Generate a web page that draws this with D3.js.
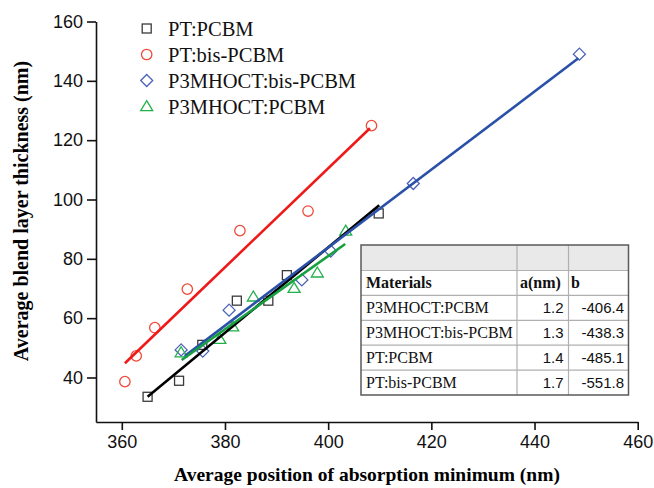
<!DOCTYPE html>
<html><head><meta charset="utf-8">
<script src="https://cdn.jsdelivr.net/npm/d3@7"></script>
<style>body{margin:0;background:#fff}svg{display:block}</style>
</head><body>
<script>
// ---- data ----
const seriesNames = ["PT:PCBM", "PT:bis-PCBM", "P3MHOCT:bis-PCBM", "P3MHOCT:PCBM"];
const ptPcbmX = [365.0, 371.1, 375.6, 382.3, 388.4, 392.0, 409.8];
const ptPcbmY = [33.5, 38.9, 51.0, 65.9, 65.9, 74.5, 95.3];
const ptBisX = [360.6, 362.8, 366.4, 372.7, 382.9, 396.1, 408.4];
const ptBisY = [38.6, 47.3, 56.8, 69.8, 89.5, 96.1, 124.9];
const p3BisX = [371.5, 375.7, 380.8, 394.9, 400.5, 416.5, 448.7];
const p3BisY = [49.3, 48.9, 62.7, 72.9, 82.6, 105.4, 149.0];
const p3PcbmX = [371.5, 379.0, 381.5, 385.5, 393.4, 397.9, 403.4];
const p3PcbmY = [48.4, 52.9, 57.1, 67.2, 70.1, 75.3, 89.4];
// fitted line end points [x0, x1], [y0, y1]
const ptPcbmFitX = [365.0, 409.9], ptPcbmFitY = [33.5, 98.1];
const ptBisFitX = [360.6, 408.1], ptBisFitY = [44.8, 124.0];
const p3BisFitX = [372.2, 448.5], p3BisFitY = [47.2, 147.6];
const p3PcbmFitX = [371.6, 403.3], p3PcbmFitY = [45.9, 85.0];
const xTicks = [360, 380, 400, 420, 440, 460];
const yTicks = [40, 60, 80, 100, 120, 140, 160];
const tableHeader = ["Materials", "a(nm)", "b"];
const tableMaterials = ["P3MHOCT:PCBM", "P3MHOCT:bis-PCBM", "PT:PCBM", "PT:bis-PCBM"];
const tableA = ["1.2", "1.3", "1.4", "1.7"];
const tableB = ["-406.4", "-438.3", "-485.1", "-551.8"];

// ---- chart ----
const W = 654, H = 488;
const svg = d3.select("body").append("svg").attr("width", W).attr("height", H);
const x = d3.scaleLinear().domain([355, 460]).range([96, 637.7]);
const y = d3.scaleLinear().domain([25, 160]).range([422, 21.5]);
const serif = "'Liberation Serif','Times New Roman',serif";
const sans = "'Liberation Sans',Arial,sans-serif";

const xAxis = svg.append("g").attr("transform", "translate(0,422)")
  .call(d3.axisBottom(x).tickValues(xTicks).tickSize(8).tickSizeOuter(0).tickPadding(5).tickFormat(d3.format("d")));
const yAxis = svg.append("g").attr("transform", "translate(96,0)")
  .call(d3.axisLeft(y).tickValues(yTicks).tickSize(9).tickSizeOuter(0).tickPadding(4).tickFormat(d3.format("d")));
[xAxis, yAxis].forEach(g => {
  g.selectAll("path,line").attr("stroke", "#111").attr("stroke-width", 1.6);
  g.selectAll("text").attr("font-family", sans).attr("font-size", 18).attr("fill", "#111");
});

svg.append("text").attr("x", 367).attr("y", 481).attr("text-anchor", "middle")
  .attr("font-family", serif).attr("font-weight", "bold").attr("font-size", 19.5)
  .text("Average position of absorption minimum (nm)");
svg.append("text").attr("transform", "translate(28,211) rotate(-90)").attr("text-anchor", "middle")
  .attr("font-family", serif).attr("font-weight", "bold").attr("font-size", 20)
  .text("Average blend layer thickness (nm)");

const series = [
  {name: seriesNames[0], xs: ptPcbmX, ys: ptPcbmY, fx: ptPcbmFitX, fy: ptPcbmFitY, mark: "square", mc: "#3a3a3a", lc: "#000000"},
  {name: seriesNames[1], xs: ptBisX, ys: ptBisY, fx: ptBisFitX, fy: ptBisFitY, mark: "circle", mc: "#f04a3a", lc: "#ee1a1a"},
  {name: seriesNames[2], xs: p3BisX, ys: p3BisY, fx: p3BisFitX, fy: p3BisFitY, mark: "diamond", mc: "#4b62b8", lc: "#2a50a8"},
  {name: seriesNames[3], xs: p3PcbmX, ys: p3PcbmY, fx: p3PcbmFitX, fy: p3PcbmFitY, mark: "triangle", mc: "#22b04a", lc: "#16a040"}
];

function marker(g, type, cx, cy, color) {
  if (type === "square") g.append("rect").attr("x", cx - 4.5).attr("y", cy - 4.5).attr("width", 9).attr("height", 9);
  else if (type === "circle") g.append("circle").attr("cx", cx).attr("cy", cy).attr("r", 5.2);
  else if (type === "diamond") g.append("path").attr("d", `M${cx},${cy-6}L${cx+6},${cy}L${cx},${cy+6}L${cx-6},${cy}Z`);
  else g.append("path").attr("d", `M${cx},${cy-5.8}L${cx+6},${cy+4.2}L${cx-6},${cy+4.2}Z`);
  g.selectAll(":last-child").attr("fill", "none").attr("stroke", color).attr("stroke-width", 1.3);
}

const line = d3.line().x(d => x(d[0])).y(d => y(d[1]));
series.forEach(s => {
  const g = svg.append("g");
  s.xs.forEach((v, i) => marker(g, s.mark, x(v), y(s.ys[i]), s.mc));
});
series.forEach(s => {
  svg.append("path").attr("d", line(s.fx.map((v, i) => [v, s.fy[i]])))
    .attr("fill", "none").attr("stroke", s.lc).attr("stroke-width", 2.6);
});

// legend
series.forEach((s, i) => {
  const ly = 28.5 + i * 26;
  const g = svg.append("g");
  marker(g, s.mark, 146.7, ly, s.mc);
  svg.append("text").attr("x", 168).attr("y", ly + 7).attr("font-family", serif).attr("font-size", 20.5)
    .attr("fill", "#111").text(s.name);
});

// table
const tL = 361, tR = 628.5, c1 = 517, c2 = 568.5, tT = 245, hB = 270.5, rowH = 24.9;
const tb = svg.append("g");
tb.append("rect").attr("x", tL).attr("y", tT).attr("width", tR - tL).attr("height", hB - tT).attr("fill", "#e9e9e9");
const rowsY = d3.range(6).map(i => hB + i * rowH);
rowsY.slice(0, 5).forEach(ry => tb.append("line").attr("x1", tL).attr("x2", tR).attr("y1", ry).attr("y2", ry).attr("stroke", "#b0b0b0").attr("stroke-width", 1.2));
[c1, c2].forEach(cx => tb.append("line").attr("x1", cx).attr("x2", cx).attr("y1", tT).attr("y2", rowsY[5]).attr("stroke", "#b0b0b0").attr("stroke-width", 1.2));
tb.append("rect").attr("x", tL).attr("y", tT).attr("width", tR - tL).attr("height", rowsY[5] - tT)
  .attr("fill", "none").attr("stroke", "#5a5a5a").attr("stroke-width", 1.5);
const hx = [366, 520, 571];
tableHeader.forEach((t, i) => tb.append("text").attr("x", hx[i]).attr("y", hB + rowH / 2 + 5.5)
  .attr("font-family", serif).attr("font-weight", "bold").attr("font-size", 16).attr("fill", "#111").text(t));
tableMaterials.forEach((m, i) => {
  const by = rowsY[i + 1] + rowH / 2 + 5.5;
  tb.append("text").attr("x", 366).attr("y", by).attr("font-family", serif).attr("font-size", 16).attr("fill", "#111").text(m);
  tb.append("text").attr("x", 563.5).attr("y", by).attr("text-anchor", "end").attr("font-family", sans).attr("font-size", 15).attr("fill", "#111").text(tableA[i]);
  tb.append("text").attr("x", 624).attr("y", by).attr("text-anchor", "end").attr("font-family", sans).attr("font-size", 15).attr("fill", "#111").text(tableB[i]);
});
</script>
</body></html>
